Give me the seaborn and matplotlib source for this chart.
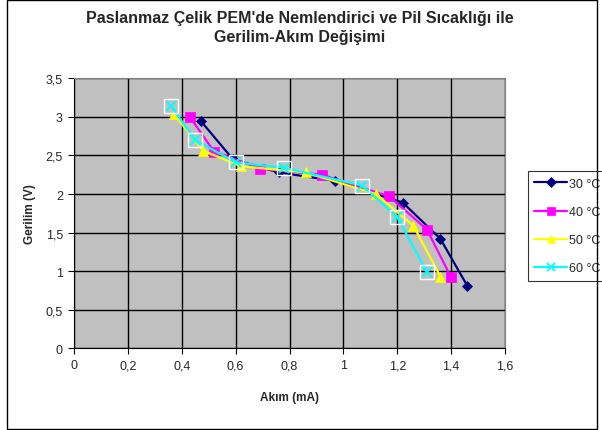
import matplotlib
matplotlib.use("Agg")
import matplotlib.pyplot as plt
import seaborn as sns
import pandas as pd
from matplotlib.patches import Rectangle

# ---- data ----
series_labels = ["30 °C", "40 °C", "50 °C", "60 °C"]
akim_30 = [0.47, 0.59, 0.76, 0.97, 1.22, 1.36, 1.46]
gerilim_30 = [2.95, 2.45, 2.28, 2.17, 1.89, 1.42, 0.81]
akim_40 = [0.43, 0.52, 0.69, 0.92, 1.17, 1.31, 1.40]
gerilim_40 = [3.00, 2.55, 2.33, 2.25, 1.97, 1.54, 0.92]
akim_50 = [0.37, 0.48, 0.62, 0.86, 1.12, 1.26, 1.36]
gerilim_50 = [3.04, 2.56, 2.36, 2.28, 2.00, 1.59, 0.93]
akim_60 = [0.36, 0.45, 0.60, 0.78, 1.07, 1.20, 1.31]
gerilim_60 = [3.14, 2.70, 2.41, 2.34, 2.11, 1.70, 0.99]

x_ticks = [0, 0.2, 0.4, 0.6, 0.8, 1.0, 1.2, 1.4, 1.6]
x_tick_labels = ["0", "0,2", "0,4", "0,6", "0,8", "1", "1,2", "1,4", "1,6"]
y_ticks = [0, 0.5, 1.0, 1.5, 2.0, 2.5, 3.0, 3.5]
y_tick_labels = ["0", "0,5", "1", "1,5", "2", "2,5", "3", "3,5"]

title = "Paslanmaz Çelik PEM'de Nemlendirici ve Pil Sıcaklığı ile\nGerilim-Akım Değişimi"
x_label = "Akım (mA)"
y_label = "Gerilim (V)"

sns.set_style("white")
plt.rcParams["font.family"] = ["Liberation Sans", "DejaVu Sans"]

fig = plt.figure(figsize=(6.02, 4.31), dpi=100)
ax = fig.add_axes([74 / 602, 1 - 349.3 / 431, (505 - 74) / 602, (349.3 - 79.3) / 431])
ax.set_facecolor("#C0C0C0")

colors = ["#000080", "#FF00FF", "#FFFF00", "#00FFFF"]
markers = ["D", "s", "^", "x"]
msizes = [5.5, 6.5, 7, 7]
xs = [akim_30, akim_40, akim_50, akim_60]
ys = [gerilim_30, gerilim_40, gerilim_50, gerilim_60]

for lab, c, m, ms, x, y in zip(series_labels, colors, markers, msizes, xs, ys):
    df = pd.DataFrame({"x": x, "y": y})
    sns.lineplot(data=df, x="x", y="y", sort=False, ax=ax, color=c, lw=1.6,
                 marker=m, markersize=ms, markeredgecolor=c, markerfacecolor=c,
                 markeredgewidth=1.3 if m == "x" else 0.5, label=lab, zorder=3)

# white square frames around the 60 °C markers
ax.plot(akim_60, gerilim_60, linestyle="none", marker="s", markersize=10.5,
        markerfacecolor="none", markeredgecolor="white", markeredgewidth=1.0, zorder=4)

ax.set_xlim(0, 1.6)
ax.set_ylim(0, 3.5)
ax.set_xticks(x_ticks)
ax.set_xticklabels(x_tick_labels, fontsize=9)
ax.set_yticks(y_ticks)
ax.set_yticklabels(y_tick_labels, fontsize=9)
ax.tick_params(axis="both", direction="out", length=4, width=0.8, color="black",
               bottom=True, left=True, pad=4)
ax.grid(True, color="black", lw=1.0)
ax.set_axisbelow(True)
for s in ["top", "right"]:
    ax.spines[s].set_color("#808080")
    ax.spines[s].set_linewidth(0.8)
for s in ["left", "bottom"]:
    ax.spines[s].set_color("black")
    ax.spines[s].set_linewidth(0.8)

ax.set_xlabel(x_label, fontsize=8.5, fontweight="bold", labelpad=14)
ax.set_ylabel(y_label, fontsize=8.5, fontweight="bold", labelpad=7)

fig.text(300 / 602, 1 - 28 / 431, title, ha="center", va="center",
         fontsize=11.5, fontweight="bold", linespacing=1.4)

leg = ax.legend(loc="center left", bbox_to_anchor=(528 / 602, 1 - 227 / 431),
                bbox_transform=fig.transFigure, frameon=True, fancybox=False,
                fontsize=9, handlelength=2.6, handletextpad=0.15, borderpad=0.5,
                labelspacing=1.3, borderaxespad=0, markerscale=0.85)
leg.get_frame().set_edgecolor("black")
leg.get_frame().set_linewidth(0.8)

fig.patches.append(Rectangle((7 / 602, 1 / 431), 590 / 602, 429 / 431,
                             transform=fig.transFigure, fill=False,
                             edgecolor="black", lw=1.0))

fig.savefig("out.png", dpi=100)
